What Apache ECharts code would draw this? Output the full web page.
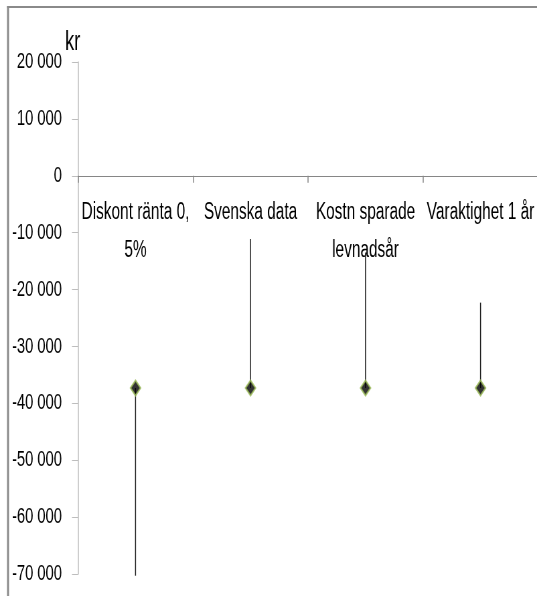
<!DOCTYPE html>
<html>
<head>
<meta charset="utf-8">
<script src="https://cdn.jsdelivr.net/npm/echarts@6/dist/echarts.min.js"></script>
<style>
  html, body { margin: 0; padding: 0; background: #fff; overflow: hidden; }
  #frame { width: 537px; height: 596px; overflow: hidden; position: relative; }
  /* the chart is laid out wide and squeezed horizontally for condensed lettering */
  #chart { width: 802px; height: 596px; transform: scaleX(0.6696); transform-origin: 0 0; }
</style>
</head>
<body>
<div id="frame"><div id="chart"></div></div>
<script>
// Sensitivity scenarios (kr): point estimate with low/high range
var categories = ['Diskont ränta 0,\n5%', 'Svenska data', 'Kostn sparade\nlevnadsår', 'Varaktighet 1 år'];
var estimates = [-37300, -37300, -37300, -37300];
var lows = [-70300, -37300, -37300, -37300];
var highs = [-37300, -11100, -13500, -22300];
var yTicks = { min: -70000, max: 20000, interval: 10000 };

var FONT = '"Liberation Sans", Arial, sans-serif';
var W = 802, H = 596;
var GRID = { left: 116.5, right: -1.5, top: 62, bottom: 22 };
var gridH = H - GRID.top - GRID.bottom;
// category axis sits on the zero line
var xOffset = -gridH * (0 - yTicks.min) / (yTicks.max - yTicks.min);

var chart = echarts.init(document.getElementById('chart'), null, { width: W, height: H });

function fmtKr(v) {
  var s = String(Math.abs(v)).replace(/\B(?=(\d{3})+(?!\d))/g, ' ');
  return (v < 0 ? '-' : '') + s;
}

chart.setOption({
  animation: false,
  backgroundColor: '#fff',
  grid: {
    left: GRID.left, right: GRID.right, top: GRID.top, bottom: GRID.bottom,
    containLabel: false, outerBoundsMode: 'none'
  },
  graphic: [
    { type: 'line', silent: true, shape: { x1: 10.5, y1: 7, x2: W + 10, y2: 7 },
      style: { stroke: '#8a8a8a', lineWidth: 2 } },
    { type: 'line', silent: true, shape: { x1: 12, y1: 6, x2: 12, y2: H + 10 },
      style: { stroke: '#8a8a8a', lineWidth: 3 } }
  ],
  xAxis: {
    type: 'category',
    data: categories,
    position: 'bottom',
    offset: xOffset,
    axisLine: { onZero: false, lineStyle: { color: '#868686', width: 1 } },
    axisTick: { show: true, length: 7, lineStyle: { color: '#868686', width: 1.5 } },
    axisLabel: {
      interval: 0,
      margin: 18,
      color: '#000',
      fontFamily: FONT,
      fontSize: 23,
      lineHeight: 38
    },
    splitLine: { show: false }
  },
  yAxis: {
    type: 'value',
    min: yTicks.min,
    max: yTicks.max,
    interval: yTicks.interval,
    name: 'kr',
    nameLocation: 'end',
    nameGap: 33,
    nameMoveOverlap: false,
    nameTextStyle: {
      color: '#000',
      fontFamily: FONT,
      fontSize: 27,
      lineHeight: 27,
      verticalAlign: 'top',
      padding: [0, 16, 0, 0]
    },
    axisLine: { show: true, onZero: false, lineStyle: { color: '#bdbdbd', width: 1.5 } },
    axisTick: { show: true, length: 9, lineStyle: { color: '#bdbdbd', width: 1 } },
    axisLabel: {
      margin: 24,
      color: '#000',
      fontFamily: FONT,
      fontSize: 22,
      formatter: fmtKr
    },
    splitLine: { show: false }
  },
  series: [
    {
      // vertical range lines
      type: 'custom',
      name: 'range',
      data: categories.map(function (c, i) { return [i, lows[i], highs[i]]; }),
      encode: { x: 0, y: [1, 2] },
      renderItem: function (params, api) {
        var i = api.value(0);
        var p1 = api.coord([i, api.value(1)]);
        var p2 = api.coord([i, api.value(2)]);
        return {
          type: 'line',
          shape: { x1: p1[0], y1: p1[1], x2: p2[0], y2: p2[1] },
          style: { stroke: '#1a1a1a', lineWidth: 1.5 }
        };
      },
      z: 2
    },
    {
      type: 'scatter',
      name: 'estimate',
      data: estimates,
      symbol: 'diamond',
      symbolSize: [15, 15],
      itemStyle: { color: '#000', borderColor: '#9bbb59', borderWidth: 2 },
      z: 3
    }
  ]
});
</script>
</body>
</html>
